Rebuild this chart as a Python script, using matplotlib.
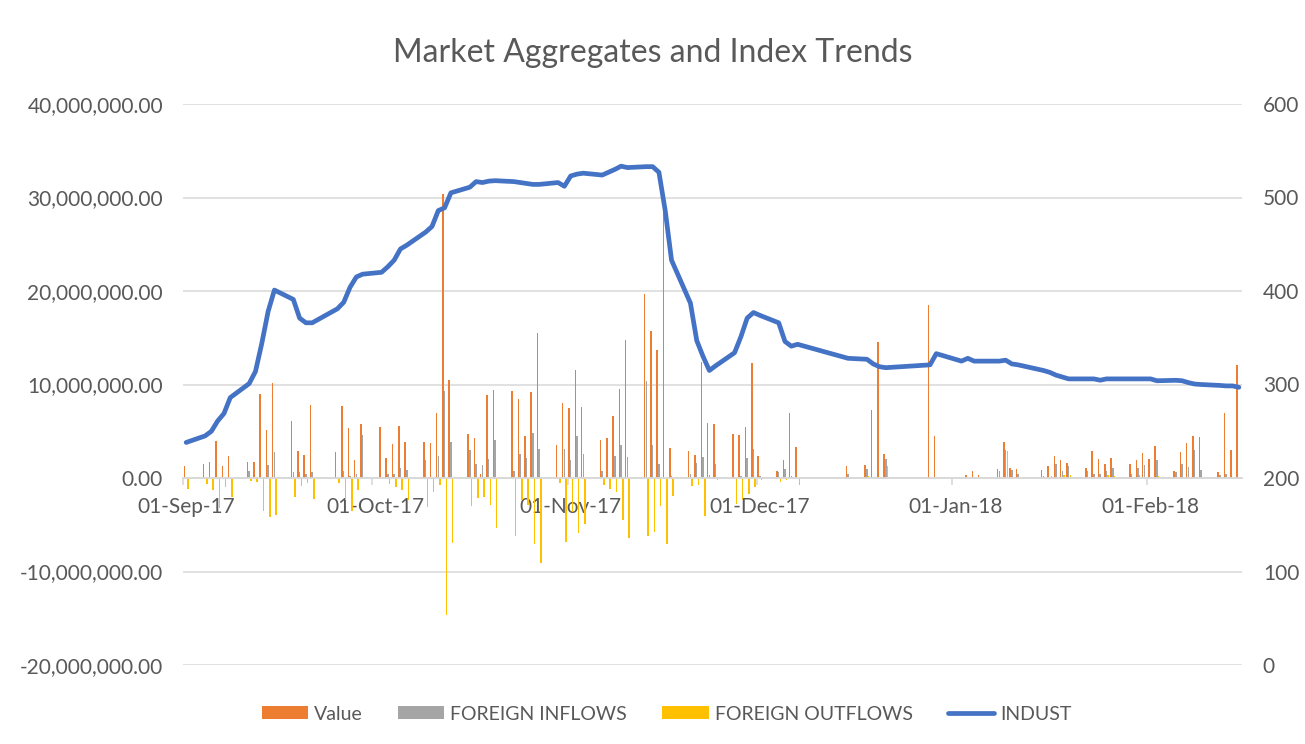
import matplotlib
matplotlib.use("Agg")
import matplotlib.pyplot as plt
import matplotlib.dates as mdates
from matplotlib.ticker import FuncFormatter, FixedLocator
from matplotlib.patches import Patch
from matplotlib.lines import Line2D
import numpy as np
import pandas as pd

plt.rcParams['font.family'] = ['Lato', 'DejaVu Sans']

dates = [
    "2017-09-01", "2017-09-04", "2017-09-05", "2017-09-06", "2017-09-07", "2017-09-08",
    "2017-09-11", "2017-09-12", "2017-09-13", "2017-09-14", "2017-09-15",
    "2017-09-18", "2017-09-19", "2017-09-20", "2017-09-21",
    "2017-09-25", "2017-09-26", "2017-09-27", "2017-09-28", "2017-09-29",
    "2017-10-02", "2017-10-03", "2017-10-04", "2017-10-05", "2017-10-06",
    "2017-10-09", "2017-10-10", "2017-10-11", "2017-10-12", "2017-10-13",
    "2017-10-16", "2017-10-17", "2017-10-18", "2017-10-19", "2017-10-20",
    "2017-10-23", "2017-10-24", "2017-10-25", "2017-10-26", "2017-10-27",
    "2017-10-30", "2017-10-31", "2017-11-01", "2017-11-02", "2017-11-03",
    "2017-11-06", "2017-11-07", "2017-11-08", "2017-11-09", "2017-11-10",
    "2017-11-13", "2017-11-14", "2017-11-15", "2017-11-16", "2017-11-17",
    "2017-11-20", "2017-11-21", "2017-11-22", "2017-11-23", "2017-11-24",
    "2017-11-27", "2017-11-28", "2017-11-29", "2017-11-30", "2017-12-01",
    "2017-12-04", "2017-12-05", "2017-12-06", "2017-12-07",
    "2017-12-15", "2017-12-18", "2017-12-19", "2017-12-20", "2017-12-21",
    "2017-12-28", "2017-12-29",
    "2018-01-02", "2018-01-03", "2018-01-04", "2018-01-05",
    "2018-01-08", "2018-01-09", "2018-01-10", "2018-01-11",
    "2018-01-15", "2018-01-16", "2018-01-17", "2018-01-18", "2018-01-19",
    "2018-01-22", "2018-01-23", "2018-01-24", "2018-01-25", "2018-01-26",
    "2018-01-29", "2018-01-30", "2018-01-31", "2018-02-01", "2018-02-02",
    "2018-02-05", "2018-02-06", "2018-02-07", "2018-02-08", "2018-02-09",
    "2018-02-12", "2018-02-13", "2018-02-14", "2018-02-15",
]

value = [
    1.25, 1.46, 1.68, 4.0, 1.25, 2.35,
    1.68, 1.68, 8.95, 5.1, 10.2,
    6.06, 2.9, 2.46, 7.77,
    2.75, 7.66, 5.35, 1.9, 5.8,
    5.45, 2.1, 3.6, 5.6, 3.9,
    3.8, 3.7, 7.0, 30.4, 10.5,
    4.75, 4.3, 0.46, 8.85, 9.45,
    9.3, 8.4, 4.5, 9.2, 15.5,
    3.5, 8.05, 7.45, 11.5, 7.6,
    4.1, 4.25, 6.6, 9.5, 14.8,
    19.7, 15.7, 13.65, 28.6, 3.25,
    2.9, 2.5, 12.4, 5.9, 5.75,
    4.7, 4.55, 5.45, 12.3, 2.35,
    0.7, 1.9, 7.0, 3.3,
    1.25, 1.35, 7.25, 14.5, 2.6,
    18.5, 4.5,
    0.0, 0.3, 0.7, 0.3,
    1.0, 3.9, 1.1, 1.0,
    0.9, 1.25, 2.35, 1.95, 1.6,
    1.1, 2.9, 2.0, 1.5, 2.1,
    1.5, 1.9, 2.7, 2.05, 3.4,
    0.8, 2.75, 3.75, 4.5, 4.4,
    0.6, 6.9, 3.0, 12.05,
]

foreign_inflows = [
    0.0, 0.0, 0.0, 0.0, 0.0, 0.0,
    0.8, 0.0, 0.0, 1.35, 2.8,
    0.64, 0.6, 0.4, 0.6,
    0.0, 0.7, 0.2, 0.4, 4.6,
    0.0, 0.4, 0.4, 1.1, 0.9,
    1.9, 0.0, 2.4, 9.3, 3.9,
    3.0, 1.5, 1.35, 2.0, 4.1,
    0.8, 2.6, 2.1, 4.8, 3.1,
    0.0, 3.1, 1.9, 4.45, 2.6,
    0.8, 0.0, 2.4, 3.5, 2.25,
    10.4, 3.5, 1.45, 0.0, 0.2,
    0.4, 1.6, 2.2, 0.3, 1.5,
    0.0, 0.2, 2.1, 3.1, 0.2,
    0.6, 1.0, 0.2, 0.0,
    0.4, 1.0, 0.0, 0.0, 2.0,
    0.0, 0.0,
    0.0, 0.0, 0.0, 0.0,
    0.75, 3.0, 0.9, 0.4,
    0.2, 0.0, 1.5, 0.7, 1.25,
    0.7, 0.45, 0.45, 0.8, 1.1,
    0.4, 1.05, 1.4, 0.0, 1.9,
    0.6, 1.5, 1.2, 3.0, 0.9,
    0.3, 0.4, 0.0, 0.0,
]

foreign_outflows = [
    -1.14, -0.68, -1.3, -3.2, -0.96, -2.0,
    -0.3, -0.4, -3.5, -4.2, -4.0,
    -2.0, -0.85, -0.5, -2.2,
    -0.5, -2.4, -3.5, -1.3, 0.0,
    0.0, -0.6, -1.0, -1.25, -2.4,
    -3.1, -1.5, -0.8, -14.6, -7.0,
    -3.0, -2.1, -2.0, -2.9, -5.4,
    -6.2, -2.4, -2.9, -7.1, -9.1,
    -0.5, -6.85, -3.6, -5.85, -4.9,
    -0.8, -1.15, -1.5, -4.45, -6.4,
    -6.25, -5.8, -3.0, -7.1, -1.9,
    -0.85, -0.7, -4.05, 0.0, -0.25,
    -2.75, -2.3, -1.7, -1.0, -0.2,
    -0.4, -0.25, 0.0, -0.8,
    0.0, 0.2, 0.0, 0.0, 1.25,
    0.0, 0.0,
    0.0, 0.0, 0.0, 0.0,
    0.0, 2.9, 0.0, 0.0,
    0.0, 0.2, 0.0, 0.3, 0.3,
    0.0, 0.0, 0.0, 0.3, 0.2,
    0.0, 0.35, 0.0, 0.0, 0.2,
    0.0, 0.0, 0.0, 0.0, 0.0,
    0.0, 0.0, 0.0, 0.0,
]

indust = [
    238, 245, 250, 261, 269, 286,
    301, 314, 344, 378, 401,
    391, 371, 366, 366,
    381, 388, 404, 415, 418,
    420, 426, 433, 445, 449,
    463, 469, 486, 489, 505,
    511, 517, 516, 517.5, 518,
    517, 516, 515, 514, 514,
    516, 512, 523, 525, 526,
    524, 527, 530, 533.5, 532,
    533, 533, 527, 486, 433,
    387, 347, 330, 315, 320,
    334, 351, 371, 377, 374,
    366, 346, 341, 343,
    328, 327, 322, 319, 318,
    321, 333,
    325, 328, 325, 325,
    325, 326, 322, 321,
    315, 313, 310, 308, 306,
    306, 306, 304.6, 306, 306,
    306, 306, 306, 306, 304,
    304.5, 304, 302, 300.5, 300,
    299, 298.5, 298.5, 297,
]

x_tick_dates = ["2017-09-01", "2017-10-01", "2017-11-01", "2017-12-01", "2018-01-01", "2018-02-01"]

# ---------------------------------------------------------------
x = mdates.date2num(pd.to_datetime(dates))
v = np.array(value) * 1e6
fi = np.array(foreign_inflows) * 1e6
fo = np.array(foreign_outflows) * 1e6

C_ORANGE = "#ED7D31"
C_GRAY = "#A5A5A5"
C_YELLOW = "#FFC000"
C_BLUE = "#4472C4"
C_TEXT = "#595959"
C_GRID = "#D9D9D9"

fig = plt.figure(figsize=(13.05, 7.44), dpi=100)
ax = fig.add_axes([183 / 1305, (744 - 665) / 744, (1242 - 183) / 1305, (665 - 104) / 744])

bw = 0.24
ax.bar(x - 0.27, v, width=bw, color=C_ORANGE, linewidth=0, zorder=2)
ax.bar(x, fi, width=bw, color=C_GRAY, linewidth=0, zorder=2)
ax.bar(x + 0.27, fo, width=bw, color=C_YELLOW, linewidth=0, zorder=2)

start = mdates.date2num(pd.Timestamp("2017-09-01"))
end = mdates.date2num(pd.Timestamp("2018-02-15"))
ax.set_xlim(start - 0.5, end + 0.5)
ax.set_ylim(-20e6, 40e6)
ax.set_yticks(np.arange(-20e6, 40e6 + 1, 10e6))
ax.yaxis.set_major_formatter(FuncFormatter(lambda val, pos: f"{val:,.2f}"))
ax.grid(axis="y", color=C_GRID, linewidth=1.1, zorder=0)
ax.set_axisbelow(True)

for s in ["top", "right", "left"]:
    ax.spines[s].set_visible(False)
ax.spines["bottom"].set_position(("data", 0))
ax.spines["bottom"].set_color(C_GRID)
ax.spines["bottom"].set_linewidth(1.3)

tick_nums = mdates.date2num(pd.to_datetime(x_tick_dates))
ax.xaxis.set_major_locator(FixedLocator(tick_nums))
ax.set_xticklabels([pd.Timestamp(d).strftime("%d-%b-%y") for d in x_tick_dates])
ax.xaxis.set_minor_locator(FixedLocator(tick_nums - 0.5))
ax.tick_params(axis="x", which="major", length=0, pad=14, labelsize=15, labelcolor=C_TEXT)
ax.tick_params(axis="x", which="minor", length=5, color=C_GRID, width=1.2, direction="out")
ax.tick_params(axis="y", length=0, pad=14.4, labelsize=15, labelcolor=C_TEXT)

ax2 = ax.twinx()
ax2.plot(x, indust, color=C_BLUE, linewidth=3.4, solid_joinstyle="round", solid_capstyle="round", zorder=5)
ax2.set_ylim(0, 600)
ax2.set_yticks(np.arange(0, 601, 100))
ax2.tick_params(axis="y", length=0, pad=15, labelsize=15, labelcolor=C_TEXT)
for s in ["top", "right", "left", "bottom"]:
    ax2.spines[s].set_visible(False)

fig.text(0.5, 1 - 53 / 744, "Market Aggregates and Index Trends", ha="center", va="center",
         fontsize=23, color=C_TEXT)

handles = [
    Patch(facecolor=C_ORANGE, edgecolor="none"),
    Patch(facecolor=C_GRAY, edgecolor="none"),
    Patch(facecolor=C_YELLOW, edgecolor="none"),
    Line2D([0], [0], color=C_BLUE, linewidth=3.4, solid_capstyle="round"),
]
labels = ["Value", "FOREIGN INFLOWS", "FOREIGN OUTFLOWS", "INDUST"]
fig.legend(handles, labels, loc="center", bbox_to_anchor=(0.5 + 14 / 1305, 1 - 714 / 744), ncol=4,
           frameon=False, fontsize=14, labelcolor=C_TEXT, handlelength=2.4, handleheight=0.6,
           handletextpad=0.3, columnspacing=1.8)

fig.savefig("out.png", dpi=100, facecolor="white")
